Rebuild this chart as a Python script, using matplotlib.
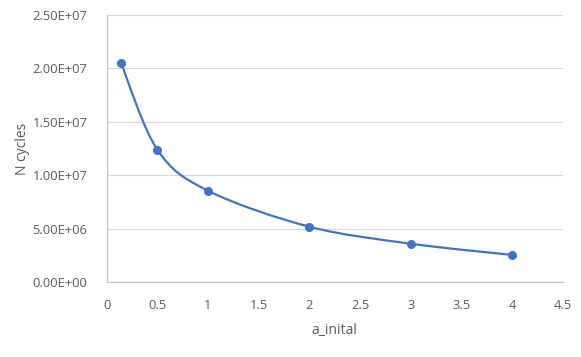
import matplotlib
matplotlib.use("Agg")
import matplotlib.pyplot as plt
from matplotlib.path import Path
from matplotlib.patches import PathPatch
from matplotlib.ticker import FuncFormatter

# data
a_initial = [0.14, 0.5, 1, 2, 3, 4]
n_cycles = [2.055e7, 1.24e7, 8.56e6, 5.2e6, 3.61e6, 2.56e6]
x_ticks = [0, 0.5, 1, 1.5, 2, 2.5, 3, 3.5, 4, 4.5]
y_ticks = [0, 5e6, 1e7, 1.5e7, 2e7, 2.5e7]

blue = "#4472C4"
grey_txt = "#595959"

plt.rcParams['font.family'] = ['Open Sans', 'DejaVu Sans']

fig = plt.figure(figsize=(5.81, 3.57), dpi=100)
ax = fig.add_axes([0.1836, 0.2092, 0.785, 0.749])

# smooth line like Excel (catmull-rom as bezier)
pts = list(zip(a_initial, n_cycles))
verts = [pts[0]]
codes = [Path.MOVETO]
n = len(pts)
for i in range(n - 1):
    p0 = pts[max(i - 1, 0)]
    p1 = pts[i]
    p2 = pts[i + 1]
    p3 = pts[min(i + 2, n - 1)]
    c1 = (p1[0] + (p2[0] - p0[0]) / 6, p1[1] + (p2[1] - p0[1]) / 6)
    c2 = (p2[0] - (p3[0] - p1[0]) / 6, p2[1] - (p3[1] - p1[1]) / 6)
    verts += [c1, c2, p2]
    codes += [Path.CURVE4] * 3
ax.add_patch(PathPatch(Path(verts, codes), facecolor='none', edgecolor=blue, lw=1.6, zorder=3))
ax.plot(a_initial, n_cycles, 'o', color=blue, markersize=5.5, zorder=4)

ax.set_xlim(0, 4.5)
ax.set_ylim(0, 2.5e7)
ax.set_xticks(x_ticks)
ax.set_yticks(y_ticks)
ax.xaxis.set_major_formatter(FuncFormatter(lambda v, p: ('%g' % v)))
ax.yaxis.set_major_formatter(FuncFormatter(lambda v, p: '%.2E' % v))
ax.grid(axis='y', color='#D9D9D9', lw=0.8)
ax.set_axisbelow(True)
for s in ['top', 'right']:
    ax.spines[s].set_visible(False)
for s in ['left', 'bottom']:
    ax.spines[s].set_color('#BFBFBF')
    ax.spines[s].set_linewidth(0.8)
ax.tick_params(length=0, labelsize=9.3, labelcolor=grey_txt)
ax.tick_params(axis='x', pad=12)
ax.tick_params(axis='y', pad=14)
ax.set_xlabel("a_inital", fontsize=10, color=grey_txt, labelpad=8)
ax.set_ylabel("N cycles", fontsize=10, color=grey_txt, labelpad=1.5)

plt.savefig('out.png')
